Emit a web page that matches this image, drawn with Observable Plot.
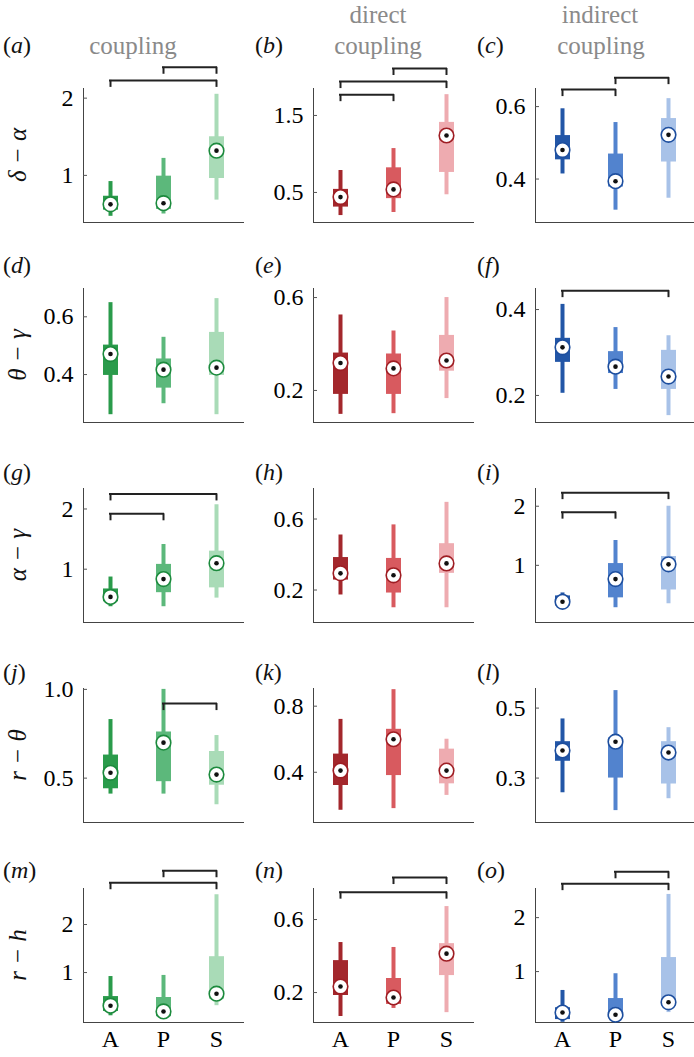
<!DOCTYPE html>
<html><head><meta charset="utf-8">
<script src="https://cdn.jsdelivr.net/npm/d3@7"></script>
<script src="https://cdn.jsdelivr.net/npm/@observablehq/plot@0.6"></script>
<style>
body{margin:0;background:#fff;}
#fig{position:relative;width:694px;height:1057px;overflow:hidden;font-family:"Liberation Serif","Times New Roman",serif;background:#fff;}
.lbl{position:absolute;font-size:24px;line-height:1;white-space:nowrap;color:#111;transform:translate(0,-50%);}
.lbl i{font-style:italic;}
.title{position:absolute;font-size:25px;color:#8a8a8a;transform:translate(-50%,-50%);line-height:1;white-space:nowrap;}
.ylab{position:absolute;font-size:25px;font-style:italic;color:#111;transform:translate(-50%,-50%) rotate(-90deg);white-space:nowrap;line-height:1;}
.panel{position:absolute;}
</style></head><body><div id="fig"></div>
<script>
// ---------- data ----------
const groups = ["A", "P", "S"];
const panelIds = ["a","b","c","d","e","f","g","h","i","j","k","l","m","n","o"];
const rowLabels = ["δ − α", "θ − γ", "α − γ", "r − θ", "r − h"];
const columnTitles = [["coupling"], ["direct", "coupling"], ["indirect", "coupling"]];

// per panel, per group (A, P, S)
const whiskerLow = [
  [0.47, 0.50, 0.68], [0.20, 0.24, 0.47], [0.414, 0.314, 0.347],
  [0.261, 0.299, 0.261], [0.097, 0.10, 0.165], [0.205, 0.214, 0.153],
  [0.377, 0.377, 0.52], [0.172, 0.10, 0.10], [0.30, 0.283, 0.35],
  [0.41, 0.41, 0.35], [0.17, 0.18, 0.26], [0.258, 0.207, 0.241],
  [0.10, 0.06, 0.31], [0.069, 0.113, 0.09], [0.06, 0.11, 0.24]
];
const quart1 = [
  [0.55, 0.56, 0.96], [0.31, 0.42, 0.76], [0.453, 0.378, 0.447],
  [0.397, 0.353, 0.397], [0.183, 0.183, 0.283], [0.277, 0.251, 0.214],
  [0.459, 0.61, 0.69], [0.256, 0.183, 0.294], [0.317, 0.45, 0.583],
  [0.44, 0.48, 0.46], [0.32, 0.38, 0.33], [0.348, 0.30, 0.283],
  [0.19, 0.08, 0.44], [0.184, 0.135, 0.293], [0.11, 0.15, 0.35]
];
const medians = [
  [0.625, 0.64, 1.32], [0.44, 0.54, 1.24], [0.48, 0.394, 0.522],
  [0.471, 0.417, 0.424], [0.318, 0.295, 0.329], [0.312, 0.267, 0.244],
  [0.54, 0.836, 1.10], [0.294, 0.283, 0.35], [0.383, 0.767, 1.017],
  [0.53, 0.70, 0.52], [0.41, 0.60, 0.41], [0.379, 0.404, 0.373],
  [0.31, 0.19, 0.56], [0.233, 0.173, 0.413], [0.24, 0.20, 0.43]
];
const quart3 = [
  [0.73, 0.99, 1.50], [0.54, 0.82, 1.41], [0.52, 0.469, 0.567],
  [0.502, 0.454, 0.546], [0.361, 0.357, 0.437], [0.333, 0.302, 0.305],
  [0.672, 1.08, 1.30], [0.383, 0.378, 0.461], [0.483, 1.03, 1.15],
  [0.63, 0.76, 0.65], [0.51, 0.66, 0.54], [0.404, 0.415, 0.404],
  [0.50, 0.48, 1.33], [0.375, 0.277, 0.468], [0.33, 0.50, 1.26]
];
const whiskerHigh = [
  [0.92, 1.22, 2.05], [0.785, 1.07, 1.77], [0.594, 0.556, 0.622],
  [0.649, 0.529, 0.663], [0.525, 0.456, 0.60], [0.412, 0.358, 0.339],
  [0.87, 1.41, 2.07], [0.51, 0.567, 0.694], [0.533, 1.42, 2.0],
  [0.83, 1.0, 0.74], [0.72, 0.90, 0.60], [0.469, 0.55, 0.444],
  [0.917, 0.94, 2.62], [0.474, 0.447, 0.671], [0.65, 0.96, 2.43]
];
const yDomains = [
  [0.39, 2.125], [0.11, 1.85], [0.28, 0.65],
  [0.234, 0.698], [0.062, 0.639], [0.137, 0.449],
  [0.115, 2.34], [0.017, 0.772], [0.033, 2.3],
  [0.25, 1.005], [0.096, 0.907], [0.173, 0.556],
  [-0.04, 2.75], [0.036, 0.77], [0.056, 2.54]
];
const yTicks = [
  [1, 2], [0.5, 1.5], [0.4, 0.6],
  [0.4, 0.6], [0.2, 0.6], [0.2, 0.4],
  [1, 2], [0.2, 0.6], [1, 2],
  [0.5, 1.0], [0.4, 0.8], [0.3, 0.5],
  [1, 2], [0.2, 0.6], [1, 2]
];
const yTickLabels = [
  ["1", "2"], ["0.5", "1.5"], ["0.4", "0.6"],
  ["0.4", "0.6"], ["0.2", "0.6"], ["0.2", "0.4"],
  ["1", "2"], ["0.2", "0.6"], ["1", "2"],
  ["0.5", "1.0"], ["0.4", "0.8"], ["0.3", "0.5"],
  ["1", "2"], ["0.2", "0.6"], ["1", "2"]
];
// significance brackets: [from, to, level value]
const brackets = [
  [["P", "S", 2.40], ["A", "S", 2.23]],
  [["P", "S", 2.11], ["A", "S", 1.94], ["A", "P", 1.77]],
  [["P", "S", 0.68], ["A", "P", 0.647]],
  [], [], [["A", "S", 0.444]],
  [["A", "S", 2.25], ["A", "P", 1.92]], [], [["A", "S", 2.23], ["A", "P", 1.90]],
  [["P", "S", 0.92]], [], [],
  [["P", "S", 3.12], ["A", "S", 2.87]], [["P", "S", 0.83], ["A", "S", 0.75]], [["P", "S", 2.85], ["A", "S", 2.63]]
];
const boxColors = [
  ["#2a9b4b", "#5cb87b", "#a9dbb7"],
  ["#a3272c", "#d85a5f", "#eeabb0"],
  ["#2256a7", "#5283ce", "#a8c2e8"]
];
const ringColors = ["#1c8a3d", "#9e1d23", "#1d4e9e"];

// ---------- layout ----------
const colLeft = [0, 230, 460];
const colMarginLeft = [83, 83, 75];
const axisW = 160, axisH = 134, mTop = 31, panelH = 200;
const rowTop = r => 57 + 200 * r;
const letterLeft = [3, 255, 477];
const letterY = [45, 265, 472, 672, 870];

const fig = document.getElementById("fig");
function addDiv(cls, html, x, y) {
  const d = document.createElement("div");
  d.className = cls; d.innerHTML = html;
  d.style.left = x + "px"; d.style.top = y + "px";
  fig.appendChild(d); return d;
}

// column titles
addDiv("title", columnTitles[0][0], 133, 45);
addDiv("title", columnTitles[1][0], 378, 14);
addDiv("title", columnTitles[1][1], 378, 45);
addDiv("title", columnTitles[2][0], 600, 14);
addDiv("title", columnTitles[2][1], 601, 45);

panelIds.forEach((id, p) => {
  const r = Math.floor(p / 3), c = p % 3;
  const ml = colMarginLeft[c];
  const [d0, d1] = yDomains[p];
  const pxPerUnit = axisH / (d1 - d0);
  const drop = 7 / pxPerUnit;
  const boxes = groups.map((g, i) => ({
    g, lo: whiskerLow[p][i], q1: quart1[p][i], med: medians[p][i],
    q3: quart3[p][i], hi: whiskerHigh[p][i], color: boxColors[c][i]
  }));
  const br = brackets[p].map(([from, to, v]) => ({from, to, v}));
  const brEnds = br.flatMap(b => [{g: b.from, v: b.v, v2: b.v - drop}, {g: b.to, v: b.v, v2: b.v - drop}]);
  const bottom = r === 4;
  const labels = yTickLabels[p];
  const svg = Plot.plot({
    width: ml + axisW, height: panelH,
    marginLeft: ml, marginRight: 0, marginTop: mTop, marginBottom: panelH - mTop - axisH,
    style: {background: "transparent", overflow: "visible", fontFamily: "Liberation Serif, Times New Roman, serif", fontSize: "24px", color: "#444"},
    x: {type: "point", domain: groups, padding: 0.5, line: true, tickSize: 0, tickPadding: 7,
        tickFormat: bottom ? (d => d) : (() => ""), label: null},
    y: {domain: [d0, d1], ticks: yTicks[p], tickSize: 0, tickPadding: 10, line: true, label: null,
        tickFormat: d => labels[yTicks[p].indexOf(d)]},
    color: {type: "identity"},
    marks: [
      Plot.tickY(yTicks[p], {y: d => d, stroke: "#555", strokeWidth: 1, insetRight: axisW - 4}),
      Plot.ruleX(boxes, {x: "g", y1: "lo", y2: "hi", stroke: "color", strokeWidth: 4}),
      Plot.ruleX(boxes, {x: "g", y1: "q1", y2: "q3", stroke: "color", strokeWidth: 15}),
      Plot.dot(boxes, {x: "g", y: "med", r: 7.3, fill: "white", stroke: ringColors[c], strokeWidth: 1.6}),
      Plot.dot(boxes, {x: "g", y: "med", r: 2.3, fill: "#111", stroke: "none"}),
      Plot.ruleY(br, {x1: "from", x2: "to", y: "v", stroke: "#222", strokeWidth: 2, strokeLinecap: "square"}),
      Plot.ruleX(brEnds, {x: "g", y1: "v", y2: "v2", stroke: "#222", strokeWidth: 2})
    ]
  });
  svg.classList.add("panel");
  svg.style.position = "absolute";
  svg.style.left = colLeft[c] + "px";
  svg.style.top = rowTop(r) + "px";
  svg.querySelectorAll("text").forEach(t => { t.style.fill = "#000"; t.style.fontVariant = "normal"; });
  fig.appendChild(svg);
  addDiv("lbl", "(<i>" + id + "</i>)", letterLeft[c], letterY[r]);
  if (c === 0) addDiv("ylab", rowLabels[r], 17, rowTop(r) + mTop + axisH / 2);
});
</script></body></html>
